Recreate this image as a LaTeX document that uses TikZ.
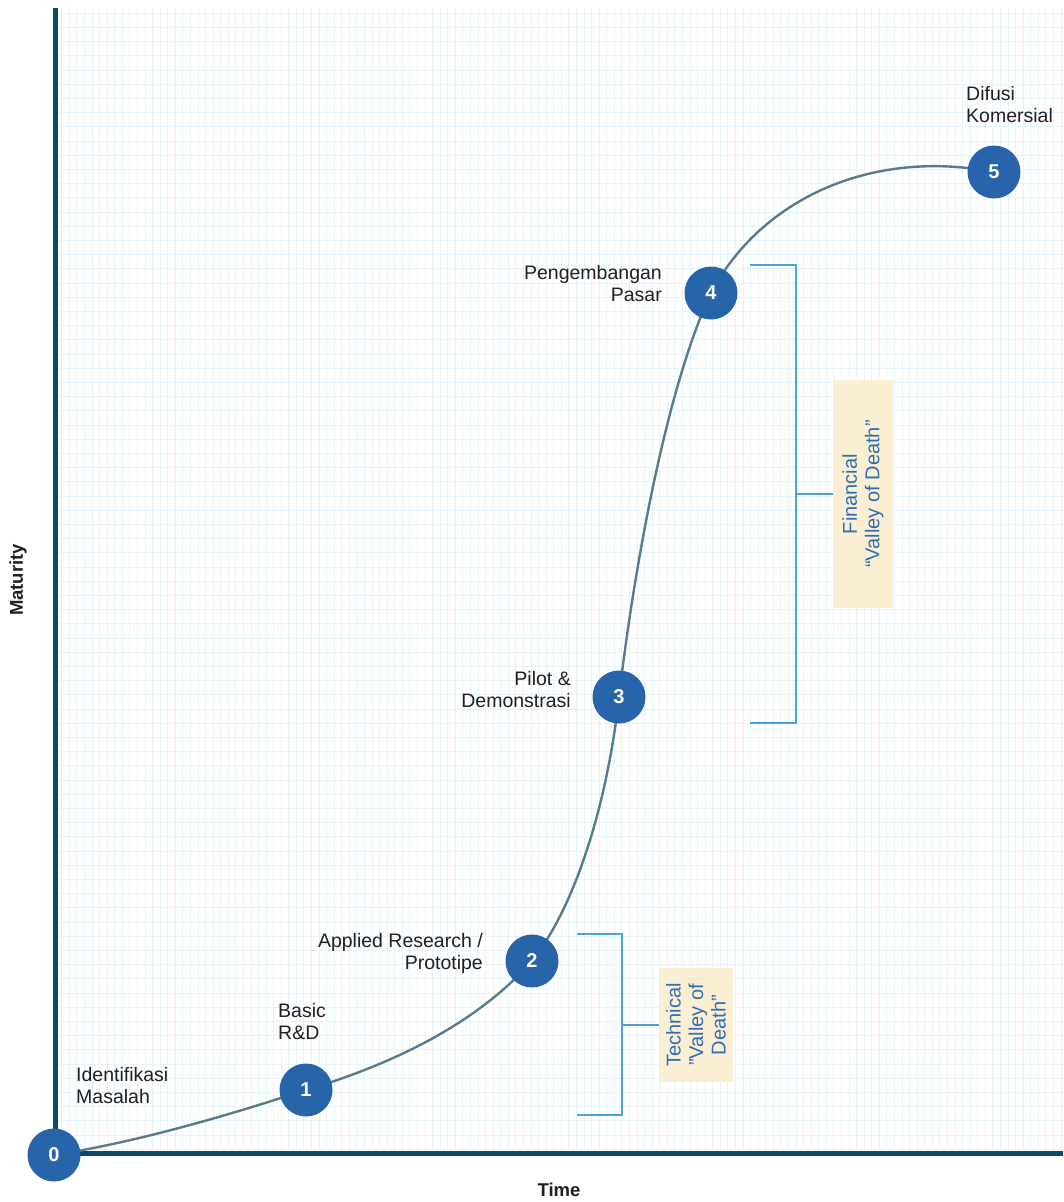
\documentclass[tikz,border=0pt]{standalone}
\usepackage{fontspec}
\setmainfont{Liberation Sans}
\usetikzlibrary{backgrounds}
\definecolor{axisc}{HTML}{0B4A6B}
\definecolor{gridc}{HTML}{E4F3FC}
\definecolor{curvec}{HTML}{5B7B8C}
\definecolor{stagec}{HTML}{2764AA}
\definecolor{brackc}{HTML}{4AA3DF}
\definecolor{boxc}{HTML}{FBEFD3}
\definecolor{boxtext}{HTML}{2F6DB5}
\definecolor{labc}{HTML}{231F20}
\begin{document}
\begin{tikzpicture}[x=1pt,y=-1pt,
  stage/.style={circle,fill=stagec,minimum size=53pt,inner sep=0pt,text=white,font=\fontsize{20}{22}\selectfont\bfseries},
  lbl/.style={text=labc,font=\fontsize{19.5}{22}\selectfont,inner sep=0pt},
  brk/.style={draw=brackc,line width=1.4pt},
  vbox/.style={fill=boxc,text=boxtext,align=center,font=\fontsize{20}{22.5}\selectfont,inner sep=0pt},
  axlbl/.style={text=labc,font=\fontsize{18.5}{20}\selectfont\bfseries}]
\useasboundingbox (0,0) rectangle (1063,1202);
% stages
\node[stage] (s0) at (54,1155) {0};
\node[stage] (s1) at (306,1090) {1};
\node[stage] (s2) at (532,961) {2};
\node[stage] (s3) at (619,697) {3};
\node[stage] (s4) at (711,293) {4};
\node[stage] (s5) at (994,172) {5};
\begin{pgfonlayer}{background}
\fill[white] (0,0) rectangle (1063,1202);
% grid
\foreach \i in {0,...,132} \draw[gridc,line width=0.9pt] ({61.7+7.57*\i},8) -- ({61.7+7.57*\i},1150);
\foreach \j in {0,...,80} \draw[gridc,line width=0.9pt] (57,{13.3+14.2*\j}) -- (1063,{13.3+14.2*\j});
% axes
\coordinate (ytop) at (55,8);
\coordinate (orig) at (55,1153);
\coordinate (xend) at (1063,1153);
\draw[axisc,line width=5pt] (ytop) -- (orig) -- (xend);
% curve
\draw[curvec,line width=2.4pt]
  (s0.center) .. controls (150,1140) and (250,1108) .. (s1.center)
  .. controls (400,1062) and (480,1020) .. (s2.center)
  .. controls (580,900) and (609,790) .. (s3.center)
  .. controls (635,560) and (668,384) .. (s4.center)
  .. controls (760,200) and (870,148) .. (s5.center);
\end{pgfonlayer}
\node[axlbl,rotate=90] (maty) at (18,580) {Maturity};
\node[axlbl] (timel) at (559,1190) {Time};
% labels
\node[lbl,anchor=west,align=left] (l0) at (76,1086) {Identifikasi\\Masalah};
\node[lbl,anchor=west,align=left] (l1) at (278,1022) {Basic\\R\&D};
\node[lbl,anchor=east,align=right] (l2) at (483,953) {Applied Research /\\Prototipe};
\node[lbl,anchor=east,align=right] (l3) at (571,690) {Pilot \&\\Demonstrasi};
\node[lbl,anchor=east,align=right] (l4) at (662,284) {Pengembangan\\Pasar};
\node[lbl,anchor=west,align=left] (l5) at (966,105) {Difusi\\Komersial};
% technical bracket
\node[vbox,minimum width=74pt,minimum height=114pt] (tbox) at (696,1025) {};
\node[vbox,fill=none,rotate=90] (ttext) at (tbox.center) {Technical\\"Valley of\\Death"};
\coordinate (t1) at (577,934);
\coordinate (t2) at (622,934);
\coordinate (t3) at (622,1115);
\coordinate (t4) at (577,1115);
\coordinate (tm) at (622,1025);
\draw[brk] (t1) -- (t2) -- (t3) -- (t4);
\draw[brk] (tm) -- (tbox.west);
% financial bracket
\node[vbox,minimum width=60pt,minimum height=228pt] (fbox) at (863,494) {};
\node[vbox,fill=none,rotate=90] (ftext) at (fbox.center) {Financial\\“Valley of Death”};
\coordinate (f1) at (750,265);
\coordinate (f2) at (796,265);
\coordinate (f3) at (796,723);
\coordinate (f4) at (750,723);
\coordinate (fm) at (796,494);
\draw[brk] (f1) -- (f2) -- (f3) -- (f4);
\draw[brk] (fm) -- (fbox.west);
\end{tikzpicture}
\end{document}
